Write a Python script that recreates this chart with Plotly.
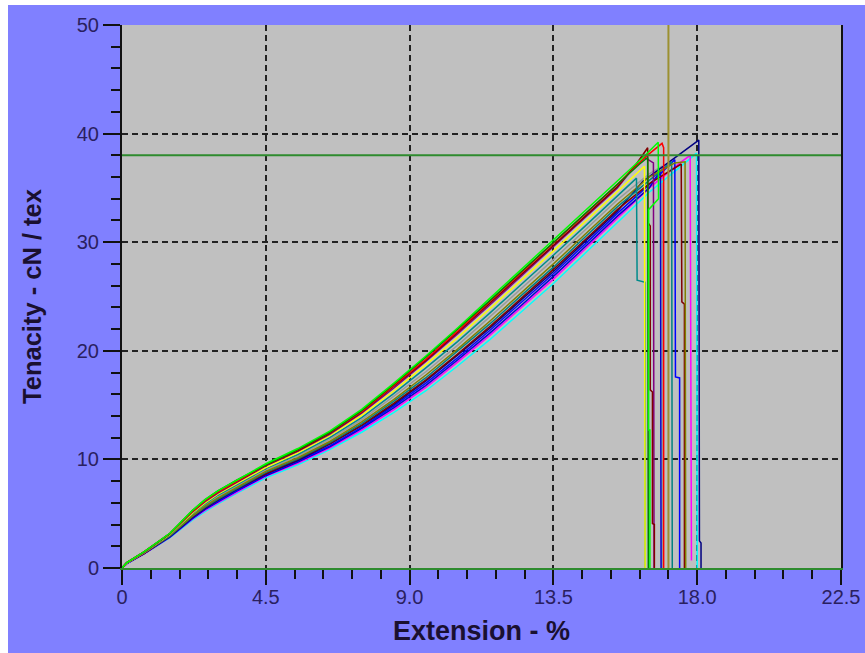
import plotly.graph_objects as go

# ---------------- data ----------------
XS = [0, 0.15, 0.7, 1.5, 2.2, 2.6, 3.0, 3.6, 4.5, 5.5, 6.5, 7.5, 8.5, 9.5, 10.5, 11.5, 12.5, 13.5, 14.5, 15.5]

GREEN_Y    = [0, 0.5, 1.5, 3.2, 5.3, 6.3, 7.1, 8.1, 9.6, 11.0, 12.6, 14.6, 17.0, 19.5, 22.1, 24.8, 27.5, 30.2, 32.9, 35.6]
DKGREEN_Y  = [0, 0.5, 1.5, 3.2, 5.3, 6.3, 7.1, 8.1, 9.5, 10.9, 12.5, 14.5, 16.9, 19.4, 22.0, 24.6, 27.3, 30.0, 32.7, 35.4]
RED_Y      = [0, 0.5, 1.5, 3.2, 5.2, 6.2, 7.0, 8.0, 9.5, 10.9, 12.5, 14.4, 16.8, 19.2, 21.8, 24.5, 27.2, 29.9, 32.6, 35.3]
MAROON_Y   = [0, 0.5, 1.5, 3.15, 5.2, 6.2, 7.0, 8.0, 9.45, 10.8, 12.4, 14.35, 16.7, 19.1, 21.7, 24.35, 27.0, 29.7, 32.4, 35.1]
PURPLE_Y   = [0, 0.5, 1.45, 3.15, 5.15, 6.1, 6.9, 7.9, 9.4, 10.75, 12.3, 14.25, 16.55, 19.0, 21.55, 24.2, 26.9, 29.55, 32.3, 35.0]
YELLOW_Y   = [0, 0.45, 1.45, 3.1, 5.05, 6.0, 6.8, 7.8, 9.25, 10.6, 12.2, 14.05, 16.3, 18.7, 21.2, 23.85, 26.5, 29.2, 31.9, 34.65]
TEAL_Y     = [0, 0.45, 1.45, 3.05, 5.0, 5.9, 6.7, 7.7, 9.15, 10.45, 12.0, 13.85, 16.05, 18.4, 20.85, 23.45, 26.1, 28.8, 31.5, 34.25]
GRAY_Y     = [0, 0.45, 1.4, 3.0, 4.9, 5.8, 6.55, 7.55, 9.0, 10.3, 11.85, 13.65, 15.8, 18.05, 20.5, 23.1, 25.75, 28.4, 31.15, 33.9]
OLIVE_Y    = [0, 0.45, 1.4, 3.0, 4.8, 5.7, 6.45, 7.45, 8.9, 10.15, 11.65, 13.45, 15.5, 17.75, 20.15, 22.7, 25.35, 28.0, 30.75, 33.5]
TEAL2_Y    = [0, 0.45, 1.4, 2.95, 4.75, 5.6, 6.35, 7.35, 8.8, 10.05, 11.55, 13.3, 15.35, 17.5, 19.95, 22.45, 25.1, 27.7, 30.5, 33.25]
MAROON2_Y  = [0, 0.45, 1.35, 2.95, 4.7, 5.55, 6.3, 7.3, 8.7, 10.0, 11.45, 13.15, 15.15, 17.3, 19.7, 22.2, 24.85, 27.5, 30.25, 33.0]
NAVY_Y     = [0, 0.45, 1.35, 2.9, 4.65, 5.5, 6.25, 7.25, 8.65, 9.9, 11.4, 13.1, 15.05, 17.2, 19.6, 22.05, 24.7, 27.3, 30.1, 32.85]
BLUE_Y     = [0, 0.4, 1.35, 2.9, 4.6, 5.45, 6.15, 7.15, 8.6, 9.85, 11.25, 12.95, 14.9, 17.0, 19.35, 21.85, 24.45, 27.1, 29.85, 32.65]
BLUE2_Y    = [0, 0.4, 1.35, 2.85, 4.55, 5.4, 6.1, 7.1, 8.5, 9.75, 11.15, 12.85, 14.75, 16.8, 19.15, 21.6, 24.2, 26.85, 29.6, 32.4]
MAGENTA_Y  = [0, 0.4, 1.3, 2.85, 4.5, 5.3, 6.0, 7.0, 8.45, 9.65, 11.05, 12.7, 14.55, 16.6, 18.95, 21.4, 24.0, 26.6, 29.4, 32.2]
CYAN_Y     = [0, 0.4, 1.3, 2.8, 4.4, 5.2, 5.9, 6.9, 8.3, 9.5, 10.9, 12.5, 14.3, 16.3, 18.6, 21.0, 23.6, 26.2, 29.0, 31.8]

# peak and break (tail) of each test
GREEN_TX   = [16.3, 16.78, 16.79, 16.48, 16.48, 16.52, 16.52]
GREEN_TY   = [37.8, 39.2, 34.0, 33.0, 12.7, 12.7, 0]
DKGREEN_TX = [16.2, 16.45, 16.47]
DKGREEN_TY = [37.2, 37.8, 0]
RED_TX     = [16.4, 16.9, 16.95, 16.95]
RED_TY     = [37.9, 39.1, 38.7, 0]
MAROON_TX  = [16.1, 16.45, 16.46, 16.53, 16.53, 16.6, 16.6, 16.66, 16.66]
MAROON_TY  = [37.2, 38.7, 31.8, 31.5, 16.4, 16.2, 4.1, 4.0, 0]
PURPLE_TX  = [16.2, 16.3, 16.63, 16.65]
PURPLE_TY  = [37.6, 37.9, 37.3, 0]
YELLOW_TX  = [16.2, 16.35, 16.37]
YELLOW_TY  = [36.6, 37.0, 0]
TEAL_TX    = [16.1, 16.12, 16.37, 16.37]
TEAL_TY    = [35.9, 26.5, 26.3, 0]
GRAY_TX    = [16.5, 16.9, 16.92]
GRAY_TY    = [36.3, 37.0, 0]
OLIVE_TX   = [16.5, 17.3, 17.62, 17.64]
OLIVE_TY   = [36.0, 37.3, 37.4, 0]
TEAL2_TX   = [16.5, 17.2, 17.22]
TEAL2_TY   = [35.7, 37.4, 0]
MAROON2_TX = [16.5, 17.5, 17.52, 17.6, 17.6]
MAROON2_TY = [35.4, 37.2, 24.5, 24.3, 0]
NAVY_TX    = [16.3, 17.24, 18.05, 18.07, 18.12, 18.12]
NAVY_TY    = [35.6, 37.6, 39.4, 2.5, 2.3, 0]
BLUE_TX    = [16.5, 17.3, 17.32, 17.45, 17.45]
BLUE_TY    = [35.3, 37.6, 17.6, 17.5, 0]
BLUE2_TX   = [16.5, 16.85, 16.87]
BLUE2_TY   = [35.0, 36.6, 0]
MAGENTA_TX = [16.5, 17.5, 17.78, 17.82]
MAGENTA_TY = [35.0, 37.4, 38.0, 0.7]
CYAN_TX    = [16.5, 17.5, 17.98, 18.0]
CYAN_TY    = [34.6, 37.0, 38.2, 0]

THRESHOLD_Y = 38.0
CURSOR_X = 17.1

X_TICKS = [0, 4.5, 9.0, 13.5, 18.0, 22.5]
X_TICK_TEXT = ["0", "4.5", "9.0", "13.5", "18.0", "22.5"]
Y_TICKS = [0, 10, 20, 30, 40, 50]
Y_TICK_TEXT = ["0", "10", "20", "30", "40", "50"]

# ---------------- figure ----------------
series = [
    (GRAY_Y, GRAY_TX, GRAY_TY, "#9a9a9a"),
    (CYAN_Y, CYAN_TX, CYAN_TY, "#00ffff"),
    (MAGENTA_Y, MAGENTA_TX, MAGENTA_TY, "#ff00ff"),
    (BLUE2_Y, BLUE2_TX, BLUE2_TY, "#0000cc"),
    (BLUE_Y, BLUE_TX, BLUE_TY, "#0000ff"),
    (NAVY_Y, NAVY_TX, NAVY_TY, "#000080"),
    (MAROON2_Y, MAROON2_TX, MAROON2_TY, "#800000"),
    (TEAL2_Y, TEAL2_TX, TEAL2_TY, "#008080"),
    (OLIVE_Y, OLIVE_TX, OLIVE_TY, "#808000"),
    (TEAL_Y, TEAL_TX, TEAL_TY, "#008b8b"),
    (YELLOW_Y, YELLOW_TX, YELLOW_TY, "#ffff00"),
    (PURPLE_Y, PURPLE_TX, PURPLE_TY, "#800080"),
    (MAROON_Y, MAROON_TX, MAROON_TY, "#800000"),
    (RED_Y, RED_TX, RED_TY, "#ff0000"),
    (DKGREEN_Y, DKGREEN_TX, DKGREEN_TY, "#008000"),
    (GREEN_Y, GREEN_TX, GREEN_TY, "#00ff00"),
]

fig = go.Figure()
for ys, tx, ty, col in series:
    fig.add_trace(go.Scatter(x=XS + tx, y=ys + ty, mode="lines",
                             line=dict(color=col, width=1.5),
                             showlegend=False, hoverinfo="skip"))

fig.add_trace(go.Scatter(x=[X_TICKS[0], X_TICKS[-1]], y=[THRESHOLD_Y, THRESHOLD_Y],
                         mode="lines", line=dict(color="#2e8b2e", width=2),
                         showlegend=False, hoverinfo="skip"))
fig.add_trace(go.Scatter(x=[CURSOR_X, CURSOR_X], y=[Y_TICKS[0], Y_TICKS[-1]],
                         mode="lines", line=dict(color="#9c9030", width=2),
                         showlegend=False, hoverinfo="skip"))

tick_font = dict(family="Liberation Sans, Arial, sans-serif", size=20, color="#2a2060")
xtitle_font = dict(family="Liberation Sans, Arial, sans-serif", size=27, color="#1a1030")
ytitle_font = dict(family="Liberation Sans, Arial, sans-serif", size=25.5, color="#1a1030")

L, R, T, B = 122, 24, 25, 85
W, H = 865, 653
PW, PH = W - L - R, H - T - B

fig.update_layout(
    width=W, height=H,
    margin=dict(l=L, r=R, t=T, b=B),
    paper_bgcolor="#8080ff",
    plot_bgcolor="#c0c0c0",
    showlegend=False,
    xaxis=dict(
        range=[0, 22.5], tickvals=X_TICKS, ticktext=X_TICK_TEXT, automargin=False,
        showgrid=True, gridcolor="#222222", gridwidth=2, griddash="6px,4px",
        zeroline=False, showline=True, linecolor="#2e8b2e", linewidth=2,
        ticks="outside", ticklen=15, tickwidth=2, tickcolor="#111111",
        minor=dict(dtick=0.9, tick0=0, ticks="outside", ticklen=9, tickwidth=2,
                   tickcolor="#111111", showgrid=False),
        tickfont=tick_font, ticklabelstandoff=-5,
        title=dict(text="<b>Extension - %</b>", font=xtitle_font, standoff=14),
    ),
    yaxis=dict(
        range=[0, 50], tickvals=Y_TICKS, ticktext=Y_TICK_TEXT, automargin=False,
        showgrid=True, gridcolor="#222222", gridwidth=2, griddash="6px,4px",
        zeroline=False, showline=True, mirror=True, linecolor="#111111", linewidth=2,
        ticks="outside", ticklen=17, tickwidth=2, tickcolor="#111111",
        minor=dict(dtick=2, tick0=0, ticks="outside", ticklen=9, tickwidth=2,
                   tickcolor="#111111", showgrid=False),
        tickfont=tick_font,
        title=dict(text="<b>Tenacity - cN / tex</b>", font=ytitle_font, standoff=28),
    ),
    shapes=[
        # white page border at left and top
        dict(type="rect", xref="paper", yref="paper",
             x0=-L / PW - 0.05, x1=(8 - L) / PW, y0=-B / PH - 0.05, y1=(H - B) / PH + 0.05,
             fillcolor="white", line=dict(width=0), layer="above"),
        dict(type="rect", xref="paper", yref="paper",
             x0=-L / PW - 0.05, x1=(W - L) / PW + 0.05, y0=(H - B - 5) / PH, y1=(H - B) / PH + 0.05,
             fillcolor="white", line=dict(width=0), layer="above"),
    ],
)

fig.write_html("out.html", config={"displayModeBar": False},
               post_script="document.body.style.margin='0';document.body.style.overflow='hidden';")
